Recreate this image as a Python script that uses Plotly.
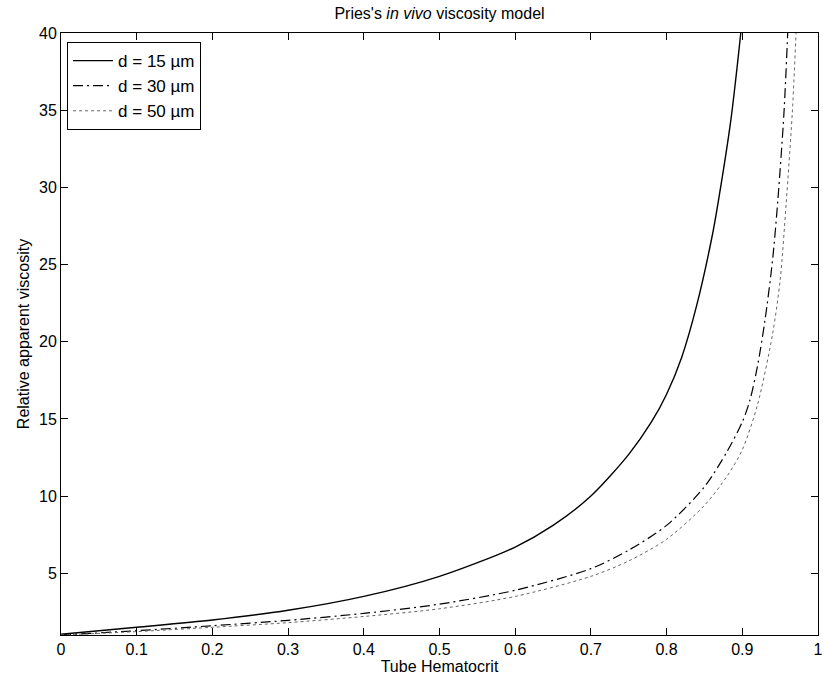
import plotly.graph_objects as go

# Data
ht_15 = [0.0, 0.1, 0.2, 0.3, 0.4, 0.5, 0.6, 0.65, 0.7, 0.75, 0.78, 0.8, 0.82, 0.84, 0.86, 0.868, 0.885, 0.898]
eta_15 = [1.05, 1.5, 1.97, 2.6, 3.5, 4.8, 6.7, 8.1, 10.0, 12.7, 14.8, 16.6, 19.0, 22.4, 26.8, 29.0, 34.4, 40.0]

ht_30 = [0.0, 0.1, 0.2, 0.3, 0.4, 0.5, 0.6, 0.7, 0.75, 0.8, 0.85, 0.88, 0.9, 0.91, 0.92, 0.93, 0.94, 0.947, 0.955, 0.96]
eta_30 = [1.0, 1.28, 1.6, 1.95, 2.4, 3.0, 3.9, 5.3, 6.5, 8.1, 10.6, 12.9, 14.8, 16.2, 18.4, 21.4, 25.3, 29.2, 34.8, 40.0]

ht_50 = [0.0, 0.1, 0.2, 0.3, 0.4, 0.5, 0.6, 0.7, 0.75, 0.8, 0.85, 0.88, 0.9, 0.92, 0.94, 0.95, 0.958, 0.966, 0.971]
eta_50 = [1.0, 1.22, 1.5, 1.8, 2.2, 2.7, 3.5, 4.8, 5.8, 7.2, 9.4, 11.3, 13.0, 15.9, 20.5, 24.0, 29.0, 34.8, 40.0]

x_ticks = [0, 0.1, 0.2, 0.3, 0.4, 0.5, 0.6, 0.7, 0.8, 0.9, 1]
x_labels = ["0", "0.1", "0.2", "0.3", "0.4", "0.5", "0.6", "0.7", "0.8", "0.9", "1"]
y_ticks = [5, 10, 15, 20, 25, 30, 35, 40]

FONT = "Liberation Sans, Arial, sans-serif"

fig = go.Figure()
fig.add_trace(go.Scatter(x=ht_15, y=eta_15, mode="lines", name="d = 15 \u00b5m",
                         line=dict(color="black", width=1.4, dash="solid", shape="spline", smoothing=0.8)))
fig.add_trace(go.Scatter(x=ht_30, y=eta_30, mode="lines", name="d = 30 \u00b5m",
                         line=dict(color="black", width=1.2, dash="10px,4px,2px,4px", shape="spline", smoothing=0.8)))
fig.add_trace(go.Scatter(x=ht_50, y=eta_50, mode="lines", name="d = 50 \u00b5m",
                         line=dict(color="#666666", width=1.0, dash="dot", shape="spline", smoothing=0.8)))

fig.update_layout(
    width=823, height=685,
    margin=dict(l=61, r=5, t=33, b=50, autoexpand=False),
    paper_bgcolor="white", plot_bgcolor="white",
    font=dict(family=FONT, size=16, color="black"),
    title=dict(text="Pries's <i>in vivo</i> viscosity model", xref="paper", x=0.5, xanchor="center",
               yref="container", y=0.981, yanchor="middle", font=dict(family=FONT, size=16, color="black")),
    showlegend=True,
    legend=dict(x=0.008, y=0.985, xanchor="left", yanchor="top",
                bgcolor="white", bordercolor="black", borderwidth=1,
                font=dict(family=FONT, size=17, color="black"),
                tracegroupgap=0, itemwidth=40),
    xaxis=dict(range=[0, 1], tickvals=x_ticks, ticktext=x_labels,
               ticks="inside", ticklen=7, tickcolor="black", tickwidth=1,
               showline=True, linecolor="black", linewidth=1, mirror="ticks",
               showgrid=False, zeroline=False,
               tickfont=dict(family=FONT, size=16),
               title=dict(text="Tube Hematocrit", standoff=2, font=dict(family=FONT, size=16))),
    yaxis=dict(range=[1, 40], tickvals=y_ticks,
               ticks="inside", ticklen=7, tickcolor="black", tickwidth=1,
               showline=True, linecolor="black", linewidth=1, mirror="ticks",
               showgrid=False, zeroline=False,
               tickfont=dict(family=FONT, size=16),
               title=dict(text="Relative apparent viscosity", standoff=5, font=dict(family=FONT, size=16))),
)

fig.write_html("out.html")
